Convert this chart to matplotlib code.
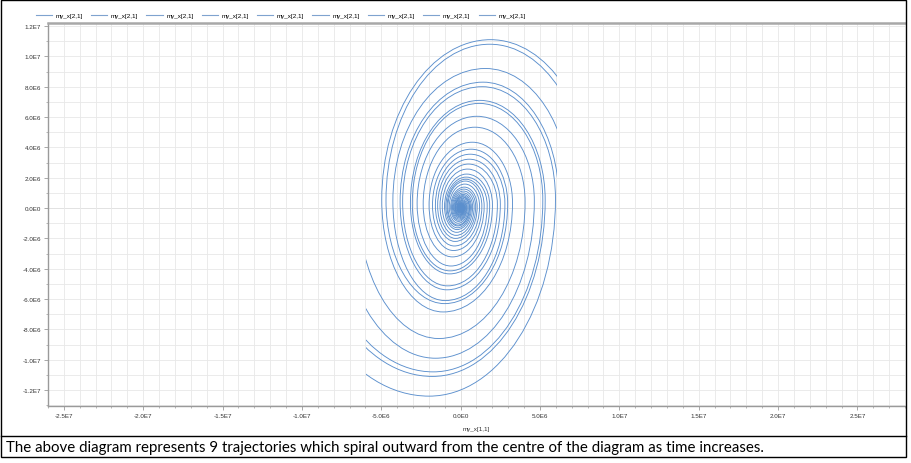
import numpy as np
import matplotlib
matplotlib.use("Agg")
import matplotlib.pyplot as plt
from matplotlib.path import Path
from matplotlib.patches import PathPatch, Rectangle
from matplotlib.lines import Line2D
from matplotlib.ticker import MultipleLocator, FixedLocator, FuncFormatter

S = 1e6  # values below are in units of 1E6

# radius of each quarter-turn extreme, clockwise from a top extreme:
# top, right, bottom, left, top, ...  (last value lies past the end, gets cut)
traj_1 = [0.045, 0.056, 0.07, 0.09, 0.11, 0.14, 0.18, 0.22,
          0.28, 0.35, 0.45, 0.57, 0.72, 0.90, 1.12, 1.41, 1.78, 2.23, 2.80, 3.49,
          4.34, 5.45, 6.85, 8.72, 11.1, 14.0]
traj_2 = [0.04, 0.05, 0.065, 0.08, 0.10, 0.13, 0.16, 0.20,
          0.25, 0.32, 0.40, 0.51, 0.64, 0.80, 1.00, 1.26, 1.58, 1.99, 2.50, 3.11,
          3.88, 4.94, 6.30, 8.25, 10.8, 13.4]
traj_3 = [0.035, 0.045, 0.055, 0.07, 0.09, 0.11, 0.14, 0.18,
          0.22, 0.28, 0.35, 0.44, 0.56, 0.70, 0.88, 1.10, 1.38, 1.74, 2.20, 2.79,
          3.55, 4.65, 6.10, 7.49, 9.2, 11.5]
traj_4 = [0.032, 0.04, 0.05, 0.065, 0.08, 0.10, 0.13, 0.16,
          0.20, 0.25, 0.32, 0.40, 0.50, 0.63, 0.80, 1.00, 1.25, 1.58, 2.00, 2.54,
          3.22, 4.17, 5.39, 6.69, 8.3, 10.3]
traj_5 = [0.03, 0.037, 0.046, 0.058, 0.072, 0.09, 0.115, 0.145,
          0.18, 0.23, 0.29, 0.36, 0.45, 0.57, 0.72, 0.90, 1.12, 1.42, 1.80, 2.28,
          2.90, 3.86, 5.13, 6.41, 8.0, 9.96, 12.4, 19.0]
traj_6 = [0.026, 0.033, 0.041, 0.052, 0.065, 0.08, 0.10, 0.13,
          0.16, 0.20, 0.26, 0.32, 0.40, 0.51, 0.64, 0.80, 1.00, 1.26, 1.60, 2.03,
          2.57, 3.34, 4.34, 5.55, 7.1, 8.88, 11.1, 16.8]
traj_7 = [0.024, 0.03, 0.037, 0.047, 0.058, 0.073, 0.092, 0.115,
          0.15, 0.18, 0.23, 0.29, 0.36, 0.45, 0.57, 0.72, 0.90, 1.13, 1.42, 1.78,
          2.24, 3.05, 4.14, 5.34, 6.9, 8.63, 10.8, 16.1]
traj_8 = [0.022, 0.028, 0.035, 0.043, 0.054, 0.068, 0.085, 0.11,
          0.14, 0.17, 0.21, 0.26, 0.33, 0.41, 0.52, 0.65, 0.82, 1.03, 1.30, 1.63,
          2.04, 2.79, 3.82, 4.81, 6.05, 7.74, 9.9, 13.5]
traj_9 = [0.02, 0.025, 0.031, 0.039, 0.049, 0.062, 0.078, 0.10,
          0.13, 0.16, 0.19, 0.24, 0.30, 0.38, 0.47, 0.59, 0.75, 0.94, 1.18, 1.50,
          1.90, 2.47, 3.22, 4.14, 5.33, 6.77, 8.6, 11.4]
trajectories = [traj_1, traj_2, traj_3, traj_4, traj_5, traj_6, traj_7, traj_8, traj_9]
labels = ["my_x[2,1]"] * 9

# where the extremes sit per unit radius: top, right, bottom, left
shape_x = [0.17, 0.60, -0.16, -0.57]
shape_y = [1.0, 0.06, -1.0, 0.06]

# the runs stop when my_x[1,1] reaches these values
x_end_left = -5.95
x_end_right = 6.1

line_color = "#5b8fcd"
grid_color = "#e8e8e8"
axis_color = "#9a9a9a"
tick_font = "Liberation Sans"


def spiral_path(radii):
    pts = [(shape_x[i % 4] * r * S, shape_y[i % 4] * r * S) for i, r in enumerate(radii)]
    verts = [pts[0]]
    codes = [Path.MOVETO]
    k = 0.5523
    for i in range(len(pts) - 1):
        (x0, y0), (x1, y1) = pts[i], pts[i + 1]
        dx, dy = x1 - x0, y1 - y0
        if i % 2 == 0:  # leaving a top / bottom point
            c1 = (x0 + k * dx, y0)
            c2 = (x1, y1 - k * dy)
        else:           # leaving a right / left point
            c1 = (x0, y0 + k * dy)
            c2 = (x1 - k * dx, y1)
        verts += [c1, c2, (x1, y1)]
        codes += [Path.CURVE4] * 3
    return Path(verts, codes)


def sci_label(v, pos):
    if abs(v) < 1:
        return "0.0E0"
    e = int(np.floor(np.log10(abs(v)) + 1e-9))
    return f"{v / 10 ** e:.1f}E{e}"


W, H = 912, 464
fig = plt.figure(figsize=(W / 100, H / 100), dpi=100)
ax = fig.add_axes([48 / W, 1 - 407 / H, (905 - 48) / W, (407 - 24) / H])

clip = Rectangle((x_end_left * S, -1e9), (x_end_right - x_end_left) * S, 2e9,
                 transform=ax.transData)
for radii in trajectories:
    patch = PathPatch(spiral_path(radii), fill=False, edgecolor=line_color, lw=0.65)
    ax.add_patch(patch)
    patch.set_clip_path(clip)

ax.set_xlim(-2.6e7, 2.8e7)
ax.set_ylim(-1.305e7, 1.22e7)

ax.xaxis.set_major_locator(MultipleLocator(5e6))
ax.xaxis.set_minor_locator(MultipleLocator(1e6))
ax.yaxis.set_major_locator(FixedLocator(np.arange(-1.2e7, 1.21e7, 2e6)))
ax.yaxis.set_minor_locator(MultipleLocator(1e6))
ax.xaxis.set_major_formatter(FuncFormatter(sci_label))
ax.yaxis.set_major_formatter(FuncFormatter(sci_label))

ax.grid(True, which="both", color=grid_color, lw=0.6, zorder=0)
ax.axhline(0, color="#c4c4c4", lw=0.7, zorder=0.5)
ax.axvline(0, color="#c4c4c4", lw=0.7, zorder=0.5)
ax.set_axisbelow(True)

for side in ["left", "bottom"]:
    ax.spines[side].set_color(axis_color)
    ax.spines[side].set_linewidth(1.0)
ax.spines["top"].set_color("#a8a8a8")
ax.spines["top"].set_linewidth(1.8)
ax.spines["right"].set_visible(False)

ax.tick_params(which="major", direction="out", length=3, width=0.6, color=axis_color,
               labelsize=4.5, labelcolor="#333333", pad=2)
ax.tick_params(which="minor", direction="out", length=1.6, width=0.5, color=axis_color)
for t in ax.get_xticklabels() + ax.get_yticklabels():
    t.set_fontfamily(tick_font)

ax.set_xlabel("my_x[1,1]", fontsize=4.5, family=tick_font, color="#333333", labelpad=6)

handles = [Line2D([], [], color="#7fa3cf", lw=0.8) for _ in labels]
fig.legend(handles, labels, ncol=9, loc="center left", bbox_to_anchor=(33 / W, 1 - 16 / H),
           frameon=False, prop={"family": tick_font, "size": 4.5},
           handlelength=2.6, handletextpad=0.6, columnspacing=1.3, borderaxespad=0)

# outer frame and caption box
fig.add_artist(Rectangle((1 / W, 1 - 458 / H), 905 / W, 457 / H, transform=fig.transFigure,
                         fill=False, edgecolor="black", lw=1.0))
fig.add_artist(Line2D([1 / W, 906 / W], [1 - 437 / H] * 2, transform=fig.transFigure,
                      color="black", lw=1.0))
fig.text(6 / W, 1 - 448 / H,
         "The above diagram represents 9 trajectories which spiral outward from the "
         "centre of the diagram as time increases.",
         family="Lato", fontsize=10.8, va="center", ha="left", color="black")

fig.savefig("out.png", dpi=100)
